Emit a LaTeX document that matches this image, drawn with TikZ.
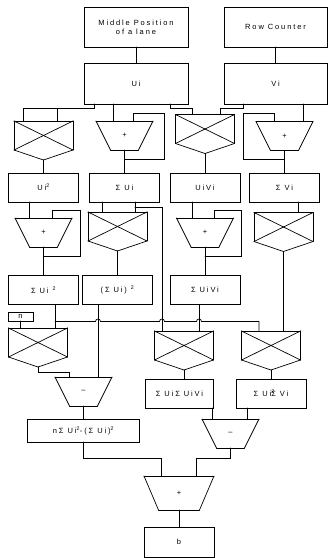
\documentclass[tikz,border=0pt]{standalone}
\usepackage{fontspec}
\newfontfamily\lblfont[LetterSpace=25]{Liberation Sans}
\usepackage{tikz}
\tikzset{
  box/.style={draw, rectangle, inner sep=0pt, outer sep=0pt, minimum width=70pt, minimum height=29pt, font=\lblfont\fontsize{7.5}{9}\selectfont},
  mult/.style={rectangle, inner sep=0pt, outer sep=0pt, minimum width=59pt, minimum height=29pt,
    append after command={
      \pgfextra{\let\opnode\tikzlastnode}
      (\opnode.south west) edge (\opnode.north west)
      (\opnode.north west) edge (\opnode.north east)
      (\opnode.north east) edge (\opnode.south east)
      (\opnode.north west) edge (\opnode.south east)
      (\opnode.north east) edge (\opnode.south west)
      (\opnode.south west) edge ([yshift=-10pt]\opnode.south)
      (\opnode.south east) edge ([yshift=-10pt]\opnode.south)}},
  adder/.style={rectangle, inner sep=0pt, outer sep=0pt, minimum width=57pt, minimum height=29pt, font=\lblfont\fontsize{7.5}{9}\selectfont,
    append after command={
      \pgfextra{\let\opnode\tikzlastnode}
      (\opnode.north west) edge (\opnode.north east)
      (\opnode.north east) edge ([xshift=-14.5pt]\opnode.south east)
      ([xshift=-14.5pt]\opnode.south east) edge ([xshift=14.5pt]\opnode.south west)
      ([xshift=14.5pt]\opnode.south west) edge (\opnode.north west)}}
}

\begin{document}
\begin{tikzpicture}[x=1pt, y=-1pt, line width=0.7pt, line cap=round]
        \useasboundingbox (0,0) rectangle (328,558);

        \node[box, minimum width=104pt, minimum height=40pt, align=center] (mp) at (136,27) {Middle Position\\of a lane};
        \node[box, minimum width=103pt, minimum height=40pt] (rc) at (275.5,27) {Row Counter};
        \node[box, minimum width=104pt, minimum height=41pt] (ui) at (136,83.5) {Ui};
        \node[box, minimum width=103pt, minimum height=41pt] (vi) at (275.5,83.5) {Vi};

        \node[mult] (sq) at (43.5,135.5) {};
        \node[adder] (sumU) at (124.5,135.5) {+};
        \node[mult] (uv) at (205,129) {};
        \node[adder] (sumV) at (284.5,136) {+};

        \node[box] (usq) at (43.5,187.5) {Ui\textsuperscript{2}};
        \node[box] (sU) at (124.5,187.5) {Σ Ui};
        \node[box] (uvb) at (205,187.5) {UiVi};
        \node[box] (sV) at (284.5,187.5) {Σ Vi};

        \node[adder] (sumU2) at (43.5,232.5) {+};
        \node[mult] (sqS) at (117.5,226.5) {};
        \node[adder] (sumUV) at (205,232.5) {+};
        \node[mult] (sqV) at (283.5,227) {};

        \node[box] (sU2) at (43.5,290) {Σ Ui \textsuperscript{2}};
        \node[box] (sSq) at (117.5,290) {(Σ Ui) \textsuperscript{2}};
        \node[box] (sUV) at (205,290) {Σ UiVi};

        \node[box, minimum width=25pt, minimum height=9pt] (n) at (20.5,316.5) {n};
        \node[mult] (mulN) at (38,342.5) {};
        \node[mult] (mulM) at (184,345.5) {};
        \node[mult] (mulR) at (271,345.5) {};

        \node[adder] (sub1) at (83.5,391.5) {–};
        \node[box, minimum width=68pt] (p1) at (179.5,393.5) {Σ UiΣ UiVi};
        \node[box] (p2) at (271,393.5) {Σ Ui\rlap{\textsuperscript{2}}Σ Vi};
        \node[box, minimum width=112pt, minimum height=23pt] (den) at (83.5,430.5) {nΣ Ui\textsuperscript{2}-(Σ Ui)\textsuperscript{2}};
        \node[adder] (sub2) at (230.5,433.5) {–};

        \node[adder, minimum width=70pt, minimum height=34pt] (fin) at (179,493) {+};
        \node[box, minimum height=30pt] (b) at (179,542) {b};

        \draw (mp.south) -- (ui.north);
        \draw (rc.south) -- (vi.north);

        \draw ([xshift=-42pt]ui.south) -- ++(0,4) -| ([xshift=-20.5pt]sq.north);
        \draw ([xshift=13.5pt]sq.north) |- ([xshift=-42pt,yshift=-4pt]ui.south);
        \draw ([xshift=-23pt]ui.south) -- ([xshift=-11.5pt]sumU.north);
        \draw ([xshift=8.5pt]sumU.north) -- ++(0,-8) -| ([xshift=39.5pt,yshift=-9pt]sumU.south) -- ([yshift=-9pt]sumU.south);
        \draw ([xshift=34pt]ui.south) -- ++(0,4) -| ([xshift=-13pt]uv.north);
        \draw ([xshift=-32.5pt]vi.south) -- ++(0,4) -| ([xshift=15pt]uv.north);
        \draw ([xshift=27.5pt]vi.south) -- ([xshift=18.5pt]sumV.north);
        \draw ([xshift=-10.5pt]sumV.north) -- ++(0,-8.5) -| ([xshift=-41.5pt,yshift=-8.5pt]sumV.south) -- ([yshift=-8.5pt]sumV.south);

        \draw ([yshift=-10pt]sq.south) -- (usq.north);
        \draw (sumU.south) -- (sU.north);
        \draw ([yshift=-10pt]uv.south) -- (uvb.north);
        \draw (sumV.south) -- (sV.north);

        \draw ([xshift=-14.5pt]usq.south) -- ([xshift=-14.5pt]sumU2.north);
        \draw ([xshift=8.5pt]sumU2.north) -- ++(0,-8) -| ([xshift=36.5pt,yshift=-9pt]sumU2.south) -- ([yshift=-9pt]sumU2.south);
        \draw ([xshift=-22.5pt]sU.south) -- ([xshift=-15.5pt]sqS.north);
        \draw ([xshift=10.5pt]sU.south) -- ([xshift=17.5pt]sqS.north);
        \draw ([xshift=10.5pt,yshift=-5pt]sU.south) -| ([xshift=-22pt]mulM.north);
        \draw ([xshift=-13pt]uvb.south) -- ([xshift=-13pt]sumUV.north);
        \draw ([xshift=9pt]sumUV.north) -- ++(0,-8) -| ([xshift=36pt,yshift=-9pt]sumUV.south) -- ([yshift=-9pt]sumUV.south);
        \draw ([xshift=13.5pt]sV.south) -- ([xshift=14.5pt]sqV.north);

        \draw (sumU2.south) -- (sU2.north);
        \draw ([yshift=-10pt]sqS.south) -- (sSq.north);
        \draw (sumUV.south) -- (sUV.north);

        \draw (n.south) -- ([xshift=-17.5pt]mulN.north);
        \draw ([xshift=11.5pt]sU2.south) -- ([xshift=17pt]mulN.north);
        \draw ([xshift=11.5pt,yshift=-17pt]sU2.south) -- ++(40.5,0) arc[start angle=180, end angle=0, radius=2.5pt]
              -- ++(59,0) arc[start angle=180, end angle=0, radius=2.5pt]
              -- ++(32,0) arc[start angle=180, end angle=0, radius=2.5pt]
              -| ([xshift=-12pt]mulR.north);
        \draw ([xshift=-6pt]sUV.south) -- ([xshift=15pt]mulM.north);
        \draw ([yshift=-10pt]sqV.south) -- ([xshift=12.5pt]mulR.north);

        \draw ([yshift=-10pt]mulN.south) -- ++(0,5) -| ([xshift=-14.5pt]sub1.north);
        \draw ([xshift=-19.5pt]sSq.south) -- ([xshift=14.5pt]sub1.north);
        \draw ([yshift=-10pt]mulM.south) -- (mulM.south |- p1.north);
        \draw ([yshift=-10pt]mulR.south) -- (p2.north);
        \draw (sub1.south) -- (den.north);
        \draw ([xshift=33pt]p1.south) -- ([xshift=-18pt]sub2.north);
        \draw ([xshift=-24pt]p2.south) -- ([xshift=16.5pt]sub2.north);

        \draw (den.south) -- ++(0,16) -| ([xshift=-18pt]fin.north);
        \draw (sub2.south) -- ++(0,10) -| ([xshift=17pt]fin.north);
        \draw (fin.south) -- (b.north);
\end{tikzpicture}
\end{document}
